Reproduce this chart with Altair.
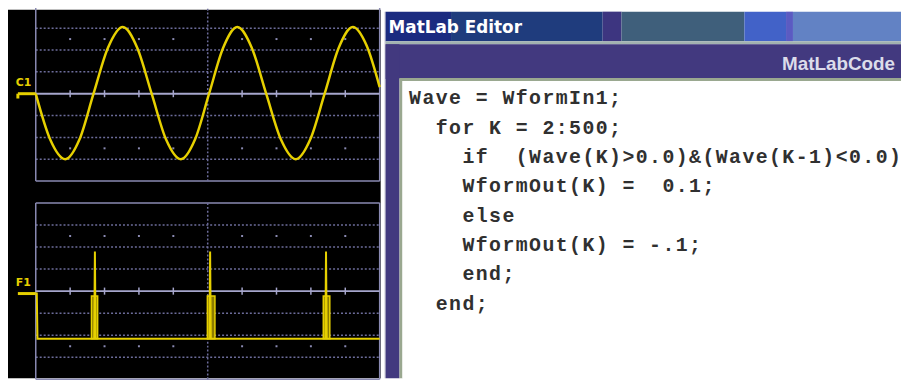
import altair as alt
import pandas as pd

# ---------------- data ----------------
# C1: input sine on the top screen (x and y in screen divisions)
c1_x = [0.00, 0.42, 0.86, 1.27, 1.68, 2.10, 2.53, 2.95, 3.37, 3.79, 4.22, 4.63,
        5.04, 5.45, 5.86, 6.28, 6.70, 7.13, 7.56, 7.98, 8.40, 8.81, 9.22, 9.62, 10.00]
c1_y = [0.0, -2.1, -3.0, -2.1, 0.0, 2.1, 3.05, 2.1, 0.0, -2.1, -3.0, -2.1,
        0.0, 2.1, 3.05, 2.1, 0.0, -2.1, -3.0, -2.1, 0.0, 2.1, 3.05, 2.2, 0.3]

# F1: output trace on the bottom screen (one pulse per rising zero crossing)
f1_x = [0.00, 0.03, 0.05, 1.70, 1.72, 1.74, 5.05, 5.07, 5.09, 8.42, 8.44, 8.46, 10.00]
f1_y = [-0.11, -0.11, -2.16, -2.16, 1.80, -2.16, -2.16, 1.80, -2.16, -2.16, 1.80, -2.16, -2.16]

pulse_start = [1.62, 4.99, 8.36]
pulse_end = [1.80, 5.21, 8.55]
pulse_low = [-2.16, -2.16, -2.16]
pulse_high = [-0.22, -0.22, -0.22]

grid_rows = [-3, -2, -1, 1, 2, 3]
border_rows = [-4, 4]
border_cols = [0, 10]
div_cols = [1, 2, 3, 4, 6, 7, 8, 9]
dot_rows = [-2.5, 2.5]
channel_labels = ["C1", "F1"]

editor_title = "MatLab Editor"
editor_tab = "MatLabCode"
code_lines = [
    "Wave = WformIn1;",
    "  for K = 2:500;",
    "    if  (Wave(K)>0.0)&(Wave(K-1)<0.0)",
    "    WformOut(K) =  0.1;",
    "    else",
    "    WformOut(K) = -.1;",
    "    end;",
    "  end;",
]

# ---------------- tables ----------------
c1_df = pd.DataFrame({"x": c1_x, "y": c1_y})
f1_df = pd.DataFrame({"x": f1_x, "y": f1_y})
pulse_df = pd.DataFrame({"x": pulse_start, "x2": pulse_end, "y": pulse_low, "y2": pulse_high})
rows_df = pd.DataFrame({"row": grid_rows})
brow_df = pd.DataFrame({"row": border_rows})
bcol_df = pd.DataFrame({"col": border_cols})
cols_df = pd.DataFrame({"col": div_cols})
dots_df = pd.DataFrame([{"col": c, "row": r} for r in dot_rows for c in div_cols])
chars = []
for i, line in enumerate(code_lines):
    for j, ch in enumerate(line):
        if ch != " ":
            chars.append({"line": i, "col": j, "ch": ch})
chars_df = pd.DataFrame(chars)
one = pd.DataFrame({"k": [0]})

# ---------------- styling ----------------
GRID_DOT = "#6c6c9a"
GRID_SOLID = "#8a8ab2"
CENTER = "#a6a6cc"
YELLOW = "#e6d000"
H = 372

XS = alt.Scale(domain=[0, 10], range=[28, 375], nice=False, zero=False)
Y_TOP = alt.Scale(domain=[-4, 4], range=[173, -3.4], nice=False, zero=False)
Y_BOT = alt.Scale(domain=[-4, 4], range=[373, 195], nice=False, zero=False)


def rect(x1, x2, y1, y2, color):
    return alt.Chart(one).mark_rect(color=color).encode(
        x=alt.value(x1), x2=alt.value(x2), y=alt.value(y1), y2=alt.value(y2))


def scope_layers(ys, label, label_y, marker_level):
    L = []
    L.append(alt.Chart(rows_df).mark_rule(color=GRID_DOT, strokeWidth=1.5, strokeDash=[2, 2]).encode(
        y=alt.Y("row:Q", scale=ys, axis=None),
        x=alt.X(datum=0, scale=XS, axis=None), x2=alt.X2(datum=10)))
    L.append(alt.Chart(brow_df).mark_rule(color=GRID_SOLID, strokeWidth=1.5).encode(
        y=alt.Y("row:Q", scale=ys, axis=None),
        x=alt.X(datum=0, scale=XS, axis=None), x2=alt.X2(datum=10)))
    L.append(alt.Chart(bcol_df).mark_rule(color=GRID_SOLID, strokeWidth=1.5).encode(
        x=alt.X("col:Q", scale=XS, axis=None),
        y=alt.Y(datum=-4, scale=ys, axis=None), y2=alt.Y2(datum=4)))
    L.append(alt.Chart(one).mark_rule(color=GRID_DOT, strokeWidth=1.5, strokeDash=[2, 2]).encode(
        x=alt.X(datum=5, scale=XS, axis=None),
        y=alt.Y(datum=-4, scale=ys, axis=None), y2=alt.Y2(datum=4)))
    L.append(alt.Chart(dots_df).mark_square(color=GRID_SOLID, size=4, opacity=1).encode(
        x=alt.X("col:Q", scale=XS, axis=None), y=alt.Y("row:Q", scale=ys, axis=None)))
    L.append(alt.Chart(one).mark_rule(color=CENTER, strokeWidth=2).encode(
        y=alt.Y(datum=0, scale=ys, axis=None),
        x=alt.X(datum=0, scale=XS, axis=None), x2=alt.X2(datum=10)))
    L.append(alt.Chart(cols_df).mark_rule(color=CENTER, strokeWidth=1.5).encode(
        x=alt.X("col:Q", scale=XS, axis=None),
        y=alt.Y(datum=-0.16, scale=ys, axis=None), y2=alt.Y2(datum=0.16)))
    # channel marker and label
    L.append(alt.Chart(one).mark_rule(color=YELLOW, strokeWidth=3).encode(
        y=alt.Y(datum=marker_level, scale=ys, axis=None),
        x=alt.X(datum=-0.52, scale=XS, axis=None), x2=alt.X2(datum=0.0)))
    L.append(alt.Chart(pd.DataFrame({"t": [label]})).mark_text(
        color=YELLOW, font="DejaVu Sans", fontWeight="bold", fontSize=11,
        align="left", baseline="alphabetic").encode(
        text="t:N", x=alt.X(datum=-0.58, scale=XS, axis=None),
        y=alt.Y(datum=label_y, scale=ys, axis=None)))
    return L


layers = []
# scope background
layers.append(rect(0, 376, 0, H, "#000000"))
layers += scope_layers(Y_TOP, channel_labels[0], 0.35, 0.0)
layers.append(alt.Chart(one).mark_rule(color=YELLOW, strokeWidth=3).encode(
    x=alt.X(datum=-0.52, scale=XS, axis=None),
    y=alt.Y(datum=0.0, scale=Y_TOP, axis=None), y2=alt.Y2(datum=-0.22)))
layers.append(alt.Chart(c1_df).mark_line(color=YELLOW, strokeWidth=2.5, interpolate="monotone").encode(
    x=alt.X("x:Q", scale=XS, axis=None), y=alt.Y("y:Q", scale=Y_TOP, axis=None)))

layers += scope_layers(Y_BOT, channel_labels[1], 0.22, -0.11)
layers.append(alt.Chart(pulse_df).mark_rect(fill="#8c7c00", stroke=YELLOW, strokeWidth=1.5).encode(
    x=alt.X("x:Q", scale=XS, axis=None), x2="x2:Q",
    y=alt.Y("y:Q", scale=Y_BOT, axis=None), y2="y2:Q"))
layers.append(alt.Chart(f1_df).mark_line(color=YELLOW, strokeWidth=2).encode(
    x=alt.X("x:Q", scale=XS, axis=None), y=alt.Y("y:Q", scale=Y_BOT, axis=None),
    order="x:Q"))

# ---------------- MatLab editor panel ----------------
layers += [
    rect(380, 381, 2, H, "#b4b4c4"),
    rect(381, 447, 2, 32, "#1b2b80"),
    rect(447, 600, 2, 32, "#1f3c7d"),
    rect(600, 619, 2, 32, "#3d3580"),
    rect(619, 743, 2, 32, "#3f5f7b"),
    rect(743, 785, 2, 32, "#4262c8"),
    rect(785, 792, 2, 32, "#5b5bc2"),
    rect(792, 901, 2, 32, "#6282c4"),
    rect(381, 901, 32, 35, "#a2b2b0"),
    rect(381, 901, 35, 70, "#42397f"),
    rect(381, 395, 35, H, "#42397f"),
    rect(395, 901, 69, 72, "#9aa890"),
    rect(395, 398, 69, H, "#9aa890"),
    rect(398, 901, 72, H, "#ffffff"),
]
layers.append(alt.Chart(pd.DataFrame({"t": [editor_title]})).mark_text(
    color="#ffffff", font="DejaVu Sans", fontWeight="bold", fontSize=17,
    align="left", baseline="alphabetic").encode(
    text="t:N", x=alt.value(384), y=alt.value(24)))
layers.append(alt.Chart(pd.DataFrame({"t": [editor_tab]})).mark_text(
    color="#dcdcea", font="Liberation Sans", fontWeight="bold", fontSize=19,
    align="right", baseline="alphabetic").encode(
    text="t:N", x=alt.value(895), y=alt.value(61)))
layers.append(alt.Chart(chars_df).mark_text(
    color="#303030", font="Liberation Mono", fontWeight="bold", fontSize=20,
    align="center", baseline="alphabetic").encode(
    text="ch:N",
    x=alt.X("col:Q", scale=alt.Scale(domain=[0, 10], range=[410.7, 545.2], nice=False, zero=False), axis=None),
    y=alt.Y("line:Q", scale=alt.Scale(domain=[0, 7], range=[95.5, 302.7], nice=False, zero=False), axis=None)))

chart = alt.layer(*layers).resolve_scale(x="independent", y="independent").properties(
    width=901, height=H, padding=0,
    autosize=alt.AutoSizeParams(type="none"),
    background="#ffffff",
).configure_view(stroke=None)

chart.save("out.html", embed_options={"renderer": "svg", "actions": False})
